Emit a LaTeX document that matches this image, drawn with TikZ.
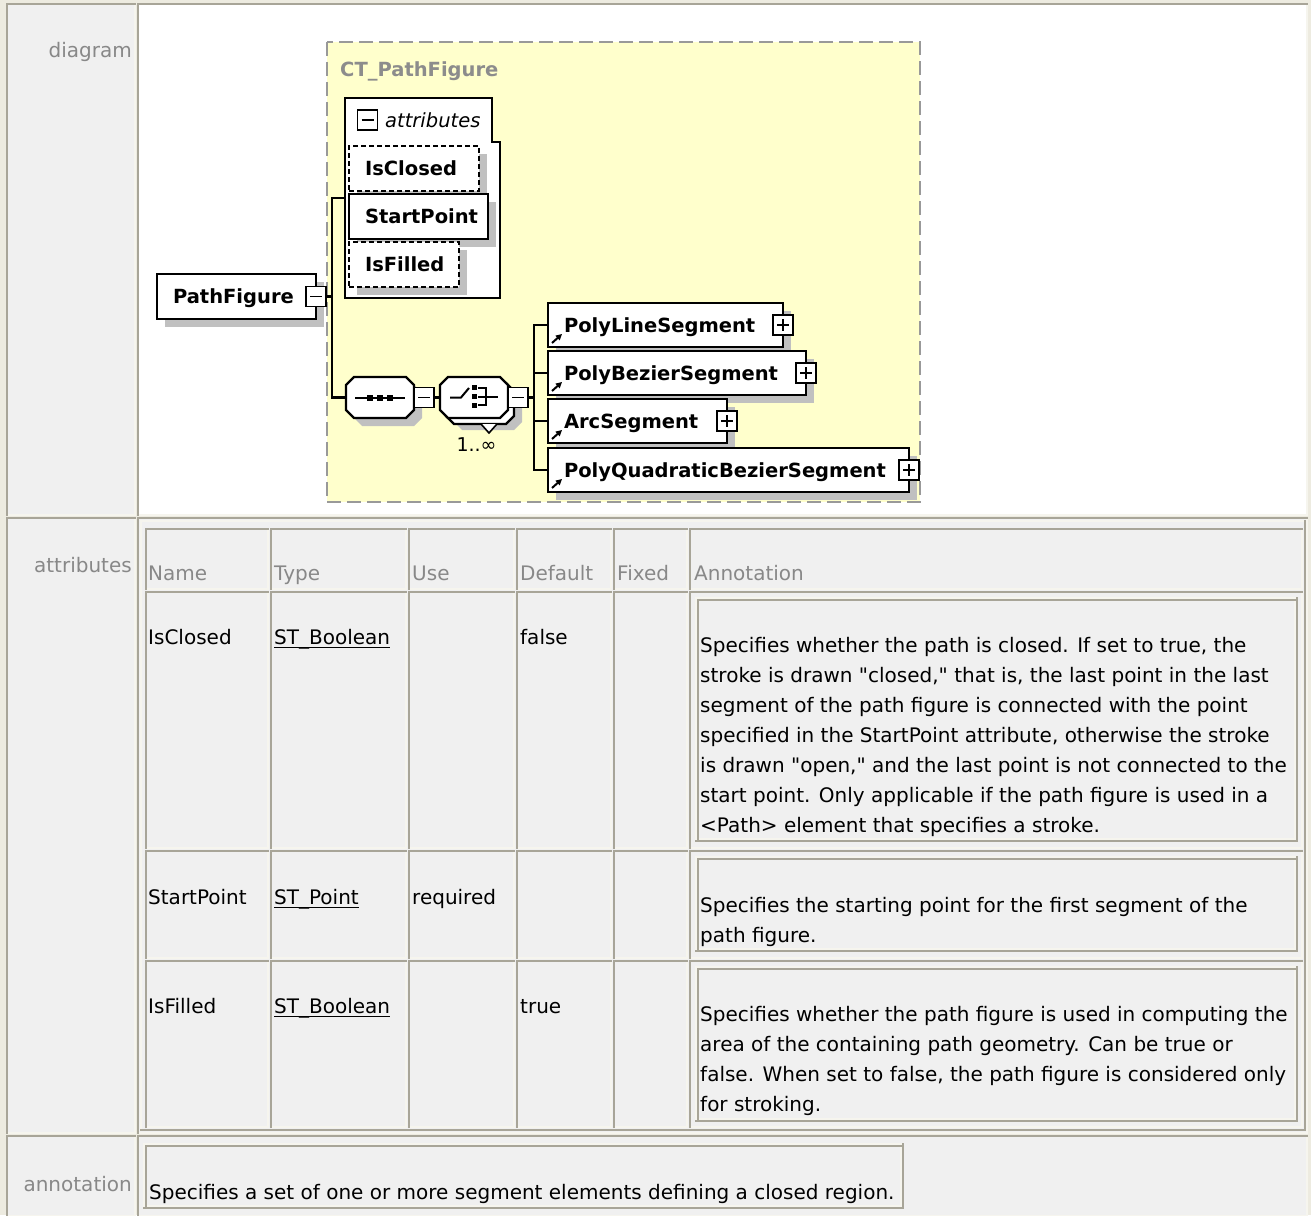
\documentclass[tikz,border=0pt]{standalone}
\usepackage{fontspec}
\setmainfont{DejaVu Sans}
\newfontfamily\tabfont{DejaVu Sans}
\usetikzlibrary{arrows.meta,shadows}
\definecolor{pagebg}{HTML}{EDEBE0}
\definecolor{darkb}{HTML}{A8A598}
\definecolor{lightb}{HTML}{F6F5EE}
\definecolor{cellbg}{HTML}{F0F0F0}
\definecolor{hdrgray}{HTML}{888888}
\definecolor{ylw}{HTML}{FFFFCC}
\definecolor{dashgray}{HTML}{999999}
\definecolor{shadowgray}{HTML}{C0C0C0}
\definecolor{ctgray}{HTML}{8C8C8C}
\newcommand\dfont{\fontsize{19.5}{22}\selectfont\bfseries}
\newcommand\tfont{\tabfont\fontsize{20}{30}\selectfont}
\newcommand\mkinset[5]{%
  \fill[#5] (#1,#2) rectangle (#3,#4);
  \draw[darkb,line width=2pt] (#1+1,#4) -- (#1+1,#2+1) -- (#3,#2+1);
  \draw[lightb,line width=2pt] (#3-1,#2+2) -- (#3-1,#4-1) -- (#1+2,#4-1);
}
\newcommand\mkoutset[4]{%
  \draw[lightb,line width=2pt] (#1+1,#4) -- (#1+1,#2+1) -- (#3,#2+1);
  \draw[darkb,line width=2pt] (#3-1,#2) -- (#3-1,#4-1) -- (#1,#4-1);
}
\newcommand\mkannbox[4]{%
  \mkoutset{#1}{#2}{#3}{#4}
  \mkinset{#1+2}{#2+2}{#3-2}{#4-2}{cellbg}
}
\newcommand\octxy[5]{%
  \path[#5] (#1+8,#2) -- (#3-8,#2) -- (#3,#2+8) -- (#3,#4-8) -- (#3-8,#4) -- (#1+8,#4) -- (#1,#4-8) -- (#1,#2+8) -- cycle;
}
\newcommand\minussign[1]{\draw[line width=1.6pt] ([xshift=4pt]#1.west) -- ([xshift=-4pt]#1.east);}
\newcommand\plussign[1]{\minussign{#1}\draw[line width=1.6pt] ([yshift=-4pt]#1.north) -- ([yshift=4pt]#1.south);}
\begin{document}
\begin{tikzpicture}[x=1pt,y=-1pt,
  elem/.style={draw, line width=2.2pt, fill=white, anchor=north west, inner xsep=16pt, inner ysep=0pt,
    outer sep=0pt, minimum height=44pt, align=left, text height=14pt, text depth=0pt, font=\dfont,
    drop shadow={shadow xshift=8pt, shadow yshift=-8pt, fill=shadowgray, opacity=1}},
  abox/.style={elem, minimum height=45pt},
  dashbox/.style={dash pattern=on 5pt off 3pt},
  pm/.style={draw, line width=1.8pt, fill=white, minimum size=20pt, inner sep=0pt, outer sep=0pt},
  conn/.style={line width=2.2pt},
  refarrow/.style={line width=2pt, -{Triangle[length=6pt,width=6pt]}},
  ghost/.style={inner sep=0pt, outer sep=0pt, anchor=north west},
  txt/.style={anchor=base west, inner sep=0pt, font=\tfont},
  colh/.style={txt, text=hdrgray},
  rowh/.style={anchor=base east, inner sep=0pt, font=\tfont, text=hdrgray}]
\useasboundingbox (0,0) rectangle (1311,1215);
\fill[pagebg] (0,0) rectangle (1311,1215);
% outer cells
\mkinset{6}{3}{136}{516}{cellbg}
\mkinset{137}{3}{1308}{516}{white}
\mkinset{6}{517}{136}{1134}{cellbg}
\mkinset{137}{517}{1308}{1134}{cellbg}
\mkinset{6}{1135}{136}{1217}{cellbg}
\mkinset{137}{1135}{1308}{1217}{cellbg}
% inner attribute table
\mkoutset{140}{520}{1306}{1131}
\foreach \ya/\yb in {528/590,591/849,850/959,960/1128}{
  \foreach \xa/\xb in {145/269,270/407,408/515,516/612,613/688,689/1303}{
    \mkinset{\xa}{\ya}{\xb}{\yb}{cellbg}
  }
}
\mkannbox{695}{597}{1298}{842}
\mkannbox{695}{856}{1298}{952}
\mkannbox{695}{966}{1298}{1122}
\mkannbox{143}{1143}{904}{1209}
% row headers
\node[rowh] (rh1) at (132,57) {diagram};
\node[rowh] (rh2) at (132,572) {attributes};
\node[rowh] (rh3) at (132,1191) {annotation};
% column headers
\node[colh] (ch1) at (148,580) {Name};
\node[colh] (ch2) at (274,580) {Type};
\node[colh] (ch3) at (412,580) {Use};
\node[colh] (ch4) at (520,580) {Default};
\node[colh] (ch5) at (617,580) {Fixed};
\node[colh] (ch6) at (694,580) {Annotation};
% row 1
\node[txt] (n1) at (148,644) {IsClosed};
\node[txt] (t1) at (274,644) {ST\_Boolean};
\node[txt] (d1) at (520,644) {false};
\node[txt] (a11) at (700,652) {Specifies whether the path is closed. If set to true, the};
\node[txt] (a12) at (700,682) {stroke is drawn "closed," that is, the last point in the last};
\node[txt] (a13) at (700,712) {segment of the path figure is connected with the point};
\node[txt] (a14) at (700,742) {specified in the StartPoint attribute, otherwise the stroke};
\node[txt] (a15) at (700,772) {is drawn "open," and the last point is not connected to the};
\node[txt] (a16) at (700,802) {start point. Only applicable if the path figure is used in a};
\node[txt] (a17) at (700,832) {<Path> element that specifies a stroke.};
% row 2
\node[txt] (n2) at (148,904) {StartPoint};
\node[txt] (t2) at (274,904) {ST\_Point};
\node[txt] (u2) at (412,904) {required};
\node[txt] (a21) at (700,912) {Specifies the starting point for the first segment of the};
\node[txt] (a22) at (700,942) {path figure.};
% row 3
\node[txt] (n3) at (148,1013) {IsFilled};
\node[txt] (t3) at (274,1013) {ST\_Boolean};
\node[txt] (d3) at (520,1013) {true};
\node[txt] (a31) at (700,1021) {Specifies whether the path figure is used in computing the};
\node[txt] (a32) at (700,1051) {area of the containing path geometry. Can be true or};
\node[txt] (a33) at (700,1081) {false. When set to false, the path figure is considered only};
\node[txt] (a34) at (700,1111) {for stroking.};
\foreach \t in {t1,t2,t3}{
  \draw[line width=1.4pt] ([yshift=-3.5pt]\t.base west) -- ([yshift=-3.5pt]\t.base east);
}
% bottom annotation
\node[txt] (ann) at (149,1199) {Specifies a set of one or more segment elements defining a closed region.};
% ---------- diagram ----------
\draw[draw=dashgray, fill=ylw, line width=2pt, dash pattern=on 14pt off 6pt] (327,42) rectangle (920,502);
\node[anchor=base west, inner sep=0pt, text=ctgray, font=\dfont] (ctname) at (340,77) {CT\_PathFigure};
% attributes group
\node[ghost, minimum width=155pt, minimum height=200pt] (attrgrp) at (345,98) {};
\draw[line width=2.2pt, fill=white] (345,98) -- (492,98) -- (492,142) -- (500,142) -- (500,298) -- (345,298) -- cycle;
\node[pm, line width=1.6pt] (attrminus) at (367.5,120) {};
\minussign{attrminus}
\node[anchor=base west, inner sep=0pt, font=\fontsize{19.5}{22}\selectfont\itshape] (attrlbl) at (385,127) {attributes};
\node[abox, dashbox, text width=98pt] (isclosed) at (349,146) {IsClosed};
\node[abox, text width=107pt] (startpt) at (349,194) {StartPoint};
\node[abox, dashbox, text width=78pt] (isfilled) at (349,242) {IsFilled};
% root element
\node[abox, text width=127pt] (pathfig) at (157,274) {PathFigure};
\node[pm] (pfminus) at (pathfig.east) {};
\minussign{pfminus}
% sequence
\node[ghost, minimum width=68pt, minimum height=41pt] (seq) at (346,377) {};
\octxy{354}{385}{422}{426}{fill=shadowgray}
\octxy{346}{377}{414}{418}{fill=white, draw, line width=2.2pt}
\draw[line width=2pt] (355,397.5) -- (405,397.5);
\foreach \xx in {370,380,390}{\fill (\xx-3,394.5) rectangle (\xx+3,400.5);}
\node[pm] (seqminus) at (424,397.5) {};
\minussign{seqminus}
% choice
\node[ghost, minimum width=68pt, minimum height=41pt] (choice) at (440,377) {};
\octxy{454}{390}{522}{430}{fill=shadowgray}
\octxy{446}{383}{514}{424}{fill=white, draw, line width=2.2pt}
\draw[line width=1.6pt, fill=white] (481,424) -- (489,433) -- (497,424);
\octxy{440}{377}{508}{418}{fill=white, draw, line width=2.2pt}
\draw[line width=2pt] (450,397.5) -- (461,397.5) -- (469,388);
\foreach \yy in {387,396,405}{\fill (471.5,\yy-2.5) rectangle (476.5,\yy+2.5);}
\draw[line width=2pt] (478,388) -- (486,388) -- (486,405) -- (478,405);
\draw[line width=2pt] (478,396.5) -- (498,396.5);
\node[pm] (chminus) at (518,397.5) {};
\minussign{chminus}
\node[anchor=base, inner sep=0pt, font=\fontsize{19}{22}\selectfont] (mult) at (476.5,451) {1..∞};
% child elements
\node[elem, text width=203pt] (polyline) at (548,303) {PolyLineSegment};
\node[pm] (pl1) at (polyline.east) {};
\plussign{pl1}
\node[elem, text width=226pt] (polybez) at (548,351) {PolyBezierSegment};
\node[pm] (pl2) at (polybez.east) {};
\plussign{pl2}
\node[elem, text width=147pt] (arcseg) at (548,399) {ArcSegment};
\node[pm] (pl3) at (arcseg.east) {};
\plussign{pl3}
\node[elem, text width=329pt] (polyquad) at (548,448) {PolyQuadraticBezierSegment};
\node[pm] (pl4) at (polyquad.east) {};
\plussign{pl4}
\foreach \e in {polyline,polybez,arcseg,polyquad}{
  \draw[refarrow] ([xshift=4pt,yshift=4pt]\e.south west) -- ++(10,-9);
}
% connectors
\coordinate (j1) at (332,296.5);
\coordinate (j2) at (534,397.5);
\draw[conn] (pfminus.east) -- (j1);
\draw[conn] (attrgrp.west) -| (j1);
\draw[conn] (j1) |- (seq.west);
\draw[conn] (seqminus.east) -- (choice.west);
\draw[conn] (chminus.east) -- (j2);
\draw[conn] (j2) |- (polyline.west);
\draw[conn] (j2) |- (polybez.west);
\draw[conn] (j2) |- (arcseg.west);
\draw[conn] (j2) |- (polyquad.west);
\end{tikzpicture}
\end{document}
